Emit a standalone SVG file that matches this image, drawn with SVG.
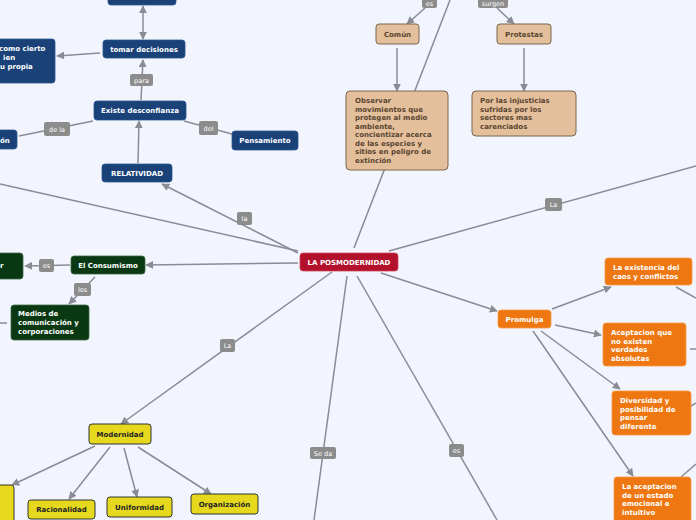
<svg xmlns="http://www.w3.org/2000/svg" width="696" height="520" viewBox="0 0 696 520">
<style>
text{font-family:"DejaVu Sans","Verdana",sans-serif;font-size:7px;font-weight:bold}
.c{stroke:#8a8c94;stroke-width:1.5;fill:none}
.a{marker-end:url(#ah)}
.lb rect{fill:#8c8c8c}
.lb text{fill:#fff;font-weight:normal;font-size:6.5px;text-anchor:middle}
.blue rect{fill:#1a4279;stroke:#2c5591;stroke-width:0.8}
.blue text,.green text,.red text,.or text{fill:#fff}
.green rect{fill:#0a3813;stroke:#3c6a44;stroke-width:0.8}
.red rect{fill:#b3102c;stroke:#d04a5c;stroke-width:0.8}
.or rect{fill:#ee7711;stroke:#f49a4a;stroke-width:0.8}
.tan rect{fill:#e3bf9c;stroke:#7a6650;stroke-width:1}
.tan text{fill:#5a4530}
.yel rect{fill:#e6d81c;stroke:#333;stroke-width:1}
.yel text{fill:#222}
.m{text-anchor:middle}
</style>
<defs>
<marker id="ah" viewBox="0 0 10 10" refX="9" refY="5" markerWidth="8" markerHeight="8" markerUnits="userSpaceOnUse" orient="auto-start-reverse">
<path d="M0,0 L10,5 L0,10 z" fill="#8a8c94"/>
</marker>
</defs>
<rect width="696" height="520" fill="#f2f5fe"/>

<g id="connectors">
<line class="c" x1="143" y1="39" x2="143" y2="6" marker-start="url(#ah)" marker-end="url(#ah)"/>
<line class="c a" x1="100" y1="53" x2="57" y2="56"/>
<line class="c a" x1="141" y1="100" x2="143" y2="60"/>
<line class="c" x1="93" y1="121" x2="19" y2="136"/>
<line class="c" x1="184" y1="121" x2="232" y2="134"/>
<line class="c a" x1="138" y1="163" x2="139" y2="121"/>
<line class="c a" x1="298" y1="253" x2="162" y2="184"/>
<line class="c" x1="298" y1="251" x2="0" y2="184"/>
<line class="c a" x1="298" y1="263" x2="146" y2="265"/>
<line class="c a" x1="70" y1="265" x2="25" y2="266"/>
<line class="c a" x1="95" y1="277" x2="69" y2="304"/>
<line class="c" x1="0" y1="323" x2="7" y2="323"/>
<line class="c a" x1="425" y1="8" x2="407" y2="24"/>
<line class="c a" x1="497" y1="8" x2="514" y2="24"/>
<line class="c a" x1="397" y1="48" x2="397" y2="91"/>
<line class="c a" x1="524" y1="48" x2="524" y2="91"/>
<line class="c" x1="354" y1="248" x2="450" y2="0"/>
<line class="c" x1="389" y1="251" x2="696" y2="166"/>
<line class="c a" x1="381" y1="273" x2="497" y2="311"/>
<line class="c a" x1="552" y1="309" x2="611" y2="287"/>
<line class="c a" x1="555" y1="325" x2="601" y2="335"/>
<line class="c a" x1="541" y1="331" x2="620" y2="389"/>
<line class="c a" x1="533" y1="331" x2="633" y2="476"/>
<line class="c" x1="676" y1="287" x2="696" y2="298"/>
<line class="c" x1="690" y1="349" x2="696" y2="349"/>
<line class="c" x1="691" y1="406" x2="696" y2="403"/>
<line class="c" x1="681" y1="477" x2="696" y2="464"/>
<line class="c a" x1="332" y1="272" x2="121" y2="424"/>
<line class="c a" x1="95" y1="446" x2="12" y2="485"/>
<line class="c a" x1="110" y1="447" x2="69" y2="499"/>
<line class="c a" x1="124" y1="448" x2="137" y2="497"/>
<line class="c a" x1="138" y1="447" x2="211" y2="494"/>
<line class="c" x1="347" y1="276" x2="314" y2="520"/>
<line class="c" x1="357" y1="276" x2="497" y2="520"/>

<g class="lb"><rect x="130" y="74" width="23" height="12" rx="2"/><text x="141.5" y="82.5">para</text></g>
<g class="lb"><rect x="44" y="122" width="26" height="14" rx="2"/><text x="57" y="131.5">de la</text></g>
<g class="lb"><rect x="199" y="121" width="19" height="14" rx="2"/><text x="208.5" y="130.5">del</text></g>
<g class="lb"><rect x="237" y="212" width="15" height="13" rx="2"/><text x="244.5" y="221">la</text></g>
<g class="lb"><rect x="39" y="259" width="15" height="13" rx="2"/><text x="46.5" y="268">es</text></g>
<g class="lb"><rect x="74" y="283" width="17" height="13" rx="2"/><text x="82.5" y="292">los</text></g>
<g class="lb"><rect x="422" y="-3" width="15" height="11" rx="2"/><text x="429.5" y="5.5">es</text></g>
<g class="lb"><rect x="478" y="-3" width="30" height="11" rx="2"/><text x="493" y="5.5">surgen</text></g>
<g class="lb"><rect x="545" y="198" width="17" height="13" rx="2"/><text x="553.5" y="207">La</text></g>
<g class="lb"><rect x="220" y="339" width="15" height="13" rx="2"/><text x="227.5" y="348">La</text></g>
<g class="lb"><rect x="310" y="447" width="26" height="12" rx="2"/><text x="323" y="455.5">Se da</text></g>
<g class="lb"><rect x="449" y="444" width="15" height="13" rx="2"/><text x="456.5" y="453">es</text></g>
</g>

<g id="n-posmodernidad" class="red"><rect x="300" y="253" width="98" height="18" rx="3"/><text class="m" x="349" y="264.5">LA POSMODERNIDAD</text></g>

<g id="n-top" class="blue"><rect x="108" y="-10" width="68" height="15" rx="3"/></g>
<g id="n-tomar" class="blue"><rect x="103" y="40" width="82" height="18" rx="3"/><text class="m" x="144" y="51.5">tomar decisiones</text></g>
<g id="n-cierto" class="blue"><rect x="-20" y="39" width="75" height="44" rx="3"/><text x="-1" y="51">como cierto</text><text x="3" y="60">ien</text><text x="0" y="69">u propia</text></g>
<g id="n-desconfianza" class="blue"><rect x="94" y="101" width="92" height="19" rx="3"/><text class="m" x="140" y="113">Existe desconfianza</text></g>
<g id="n-on" class="blue"><rect x="-20" y="130" width="37" height="19" rx="3"/><text x="0" y="142.5">ón</text></g>
<g id="n-pensamiento" class="blue"><rect x="232" y="131" width="66" height="19" rx="3"/><text class="m" x="265" y="143">Pensamiento</text></g>
<g id="n-relatividad" class="blue"><rect x="102" y="164" width="70" height="18" rx="3"/><text class="m" x="137" y="175.5">RELATIVIDAD</text></g>

<g id="n-consumismo" class="green"><rect x="71" y="256" width="74" height="18" rx="3"/><text class="m" x="108" y="267.5">El Consumismo</text></g>
<g id="n-consumidor" class="green"><rect x="-20" y="253" width="43" height="26" rx="3"/><text x="0" y="267.5">r</text></g>
<g id="n-medios" class="green"><rect x="11" y="305" width="78" height="35" rx="3"/><text x="18" y="316">Medios de</text><text x="18" y="325">comunicación y</text><text x="18" y="334">corporaciones</text></g>

<g id="n-comun" class="tan"><rect x="376" y="24" width="43" height="20" rx="3"/><text class="m" x="397.5" y="36.5">Común</text></g>
<g id="n-protestas" class="tan"><rect x="497" y="24" width="54" height="20" rx="3"/><text class="m" x="524" y="36.5">Protestas</text></g>
<g id="n-observar" class="tan"><rect x="346" y="91" width="102" height="79" rx="4"/>
<text x="355" y="103">Observar</text><text x="355" y="111.5">movimientos que</text><text x="355" y="120">protegen al medio</text><text x="355" y="128.5">ambiente,</text><text x="355" y="137">concientizar acerca</text><text x="355" y="145.5">de las especies y</text><text x="355" y="154">sitios en peligro de</text><text x="355" y="162.5">extinción</text></g>
<g id="n-injusticias" class="tan"><rect x="472" y="91" width="104" height="45" rx="4"/>
<text x="480" y="103">Por las injusticias</text><text x="480" y="111.5">sufridas por los</text><text x="480" y="120">sectores mas</text><text x="480" y="128.5">carenciados</text></g>

<g id="n-promulga" class="or"><rect x="498" y="310" width="53" height="18" rx="3"/><text class="m" x="524.5" y="321.5">Promulga</text></g>
<g id="n-caos" class="or"><rect x="605" y="258" width="87" height="27" rx="3"/><text x="613" y="270">La existencia del</text><text x="613" y="279">caos y conflictos</text></g>
<g id="n-aceptacion" class="or"><rect x="603" y="323" width="83" height="43" rx="3"/><text x="611" y="335">Aceptacion que</text><text x="611" y="343.5">no existen</text><text x="611" y="352">verdades</text><text x="611" y="360.5">absolutas</text></g>
<g id="n-diversidad" class="or"><rect x="612" y="391" width="79" height="44" rx="3"/><text x="620" y="403">Diversidad y</text><text x="620" y="411.5">posibilidad de</text><text x="620" y="420">pensar</text><text x="620" y="428.5">diferente</text></g>
<g id="n-emocional" class="or"><rect x="614" y="477" width="77" height="50" rx="3"/><text x="622" y="489">La aceptacion</text><text x="622" y="497.5">de un estado</text><text x="622" y="506">emocional e</text><text x="622" y="514.5">intuitivo</text></g>

<g id="n-modernidad" class="yel"><rect x="89" y="424" width="62" height="20" rx="3"/><text class="m" x="120" y="436.5">Modernidad</text></g>
<g id="n-yleft" class="yel"><rect x="-20" y="485" width="34" height="45" rx="3"/></g>
<g id="n-racionalidad" class="yel"><rect x="28" y="500" width="67" height="19" rx="3"/><text class="m" x="61.5" y="512">Racionalidad</text></g>
<g id="n-uniformidad" class="yel"><rect x="107" y="497" width="65" height="20" rx="3"/><text class="m" x="139.5" y="509.5">Uniformidad</text></g>
<g id="n-organizacion" class="yel"><rect x="191" y="494" width="67" height="20" rx="3"/><text class="m" x="224.5" y="506.5">Organización</text></g>
</svg>
